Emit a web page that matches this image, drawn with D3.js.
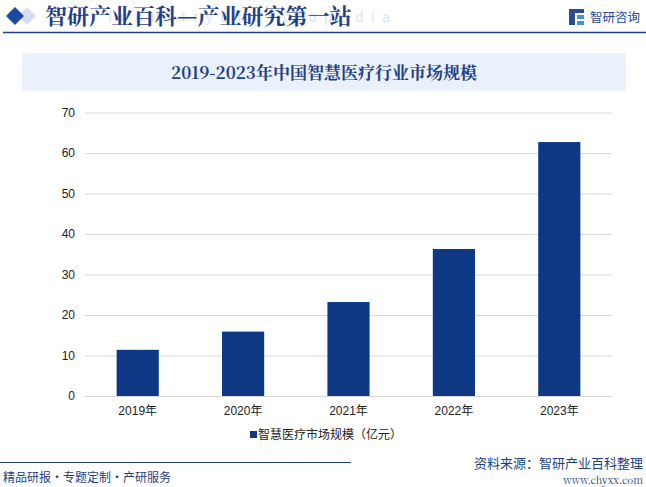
<!DOCTYPE html>
<html><head><meta charset="utf-8">
<script src="https://cdn.jsdelivr.net/npm/d3@7"></script>
<style>body{margin:0;background:#fff}svg{display:block}</style>
</head><body>
<svg id="c" width="646" height="487"></svg>
<script>
const categories = ["2019年","2020年","2021年","2022年","2023年"];
const values = [11.4, 15.9, 23.2, 36.3, 62.7];
const yTicks = [0,10,20,30,40,50,60,70];
const seriesName = "智慧医疗市场规模（亿元）";
const chartTitle = "2019-2023年中国智慧医疗行业市场规模";

const svg = d3.select("#c");
const blue = "#0e3883";
const serif = "'Noto Serif CJK SC','Noto Sans CJK SC',serif";
const sans = "'Liberation Sans',Arial,'Noto Sans CJK SC',sans-serif";

// header
svg.append("path").attr("d","M19,7 L28,16 L19,25 L10,16 Z").attr("fill","#d6deef").attr("transform","translate(8,0)");
svg.append("path").attr("d","M15,7 L24,16 L15,25 L6,16 Z").attr("fill","#1b4aa0");
svg.append("text").attr("x",108).attr("y",22).attr("font-family",sans).attr("font-size",14)
  .attr("fill","#dbe4f3").attr("textLength",282).attr("lengthAdjust","spacing").text("IndustryEncyclopedia");
svg.append("text").attr("x",45).attr("y",24).attr("font-family",serif).attr("font-weight","bold")
  .attr("font-size",22).attr("fill","#1e3f87").text("智研产业百科—产业研究第一站");
svg.append("line").attr("x1",3).attr("x2",646).attr("y1",32.5).attr("y2",32.5).attr("stroke","#1e3f87").attr("stroke-width",1.5);
// logo
const lg = svg.append("g").attr("transform","translate(569,9)");
lg.append("rect").attr("x",0).attr("y",0).attr("width",6).attr("height",16).attr("fill","#2b4a8f");
lg.append("rect").attr("x",0).attr("y",0).attr("width",15).attr("height",4).attr("fill","#2b4a8f");
lg.append("rect").attr("x",8).attr("y",6).attr("width",7).attr("height",4).attr("fill","#4a90d9");
lg.append("rect").attr("x",8).attr("y",12).attr("width",7).attr("height",4).attr("fill","#4a90d9");
svg.append("text").attr("x",590).attr("y",22).attr("font-family","'Noto Sans CJK SC',sans-serif")
  .attr("font-size",12.5).attr("fill","#1e4a9a").text("智研咨询");

// title box
svg.append("rect").attr("x",22).attr("y",53).attr("width",604).attr("height",38).attr("fill","#eaf1fb");
svg.append("text").attr("x",324).attr("y",79).attr("text-anchor","middle").attr("font-family",serif)
  .attr("font-weight","bold").attr("font-size",17).attr("fill","#1e3f87").text(chartTitle);

// chart
const x0 = 85, x1 = 612, yTop = 112.5, yBot = 396;
const x = d3.scaleBand().domain(categories).range([x0,x1]).paddingInner(0.6).paddingOuter(0.3);
const y = d3.scaleLinear().domain([0,70]).range([yBot,yTop]);

const grid = svg.append("g").attr("transform",`translate(${x0},0)`)
  .call(d3.axisLeft(y).tickValues(yTicks).tickSize(-(x1-x0)).tickFormat(d3.format("d")).tickPadding(10));
grid.select(".domain").remove();
grid.selectAll(".tick line").attr("stroke","#d9d9d9").attr("stroke-width",1);
grid.selectAll(".tick text").attr("font-family",sans).attr("font-size",12).attr("fill","#222");

svg.append("g").selectAll("rect").data(values).join("rect")
  .attr("x",(d,i)=>x(categories[i])).attr("width",x.bandwidth())
  .attr("y",d=>y(d)).attr("height",d=>yBot-y(d)).attr("fill",blue);

const xa = svg.append("g").attr("transform",`translate(0,${yBot})`)
  .call(d3.axisBottom(x).tickSize(0).tickPadding(10));
xa.select(".domain").attr("stroke","#d9d9d9");
xa.selectAll(".tick text").attr("font-family",sans).attr("font-size",12).attr("fill","#222");

// legend
svg.append("rect").attr("x",250).attr("y",431).attr("width",7).attr("height",7).attr("fill",blue);
svg.append("text").attr("x",258).attr("y",439).attr("font-family",sans).attr("font-size",12).attr("fill","#222").text(seriesName);

// footer
svg.append("line").attr("x1",0).attr("x2",351).attr("y1",462.5).attr("y2",462.5).attr("stroke","#1e3f87").attr("stroke-width",1.2);
svg.append("text").attr("x",3).attr("y",482).attr("font-family","'Noto Sans CJK SC',sans-serif").attr("font-size",12)
  .attr("fill","#1e3f87").text("精品研报・专题定制・产研服务");
svg.append("text").attr("x",643).attr("y",468).attr("text-anchor","end").attr("font-family","'Noto Sans CJK SC',sans-serif")
  .attr("font-size",13).attr("fill","#1e3f87").text("资料来源：智研产业百科整理");
svg.append("text").attr("x",643).attr("y",484).attr("text-anchor","end").attr("font-family",serif)
  .attr("font-size",10).attr("fill","#1e3f87").text("www.chyxx.com");
</script>
</body></html>
